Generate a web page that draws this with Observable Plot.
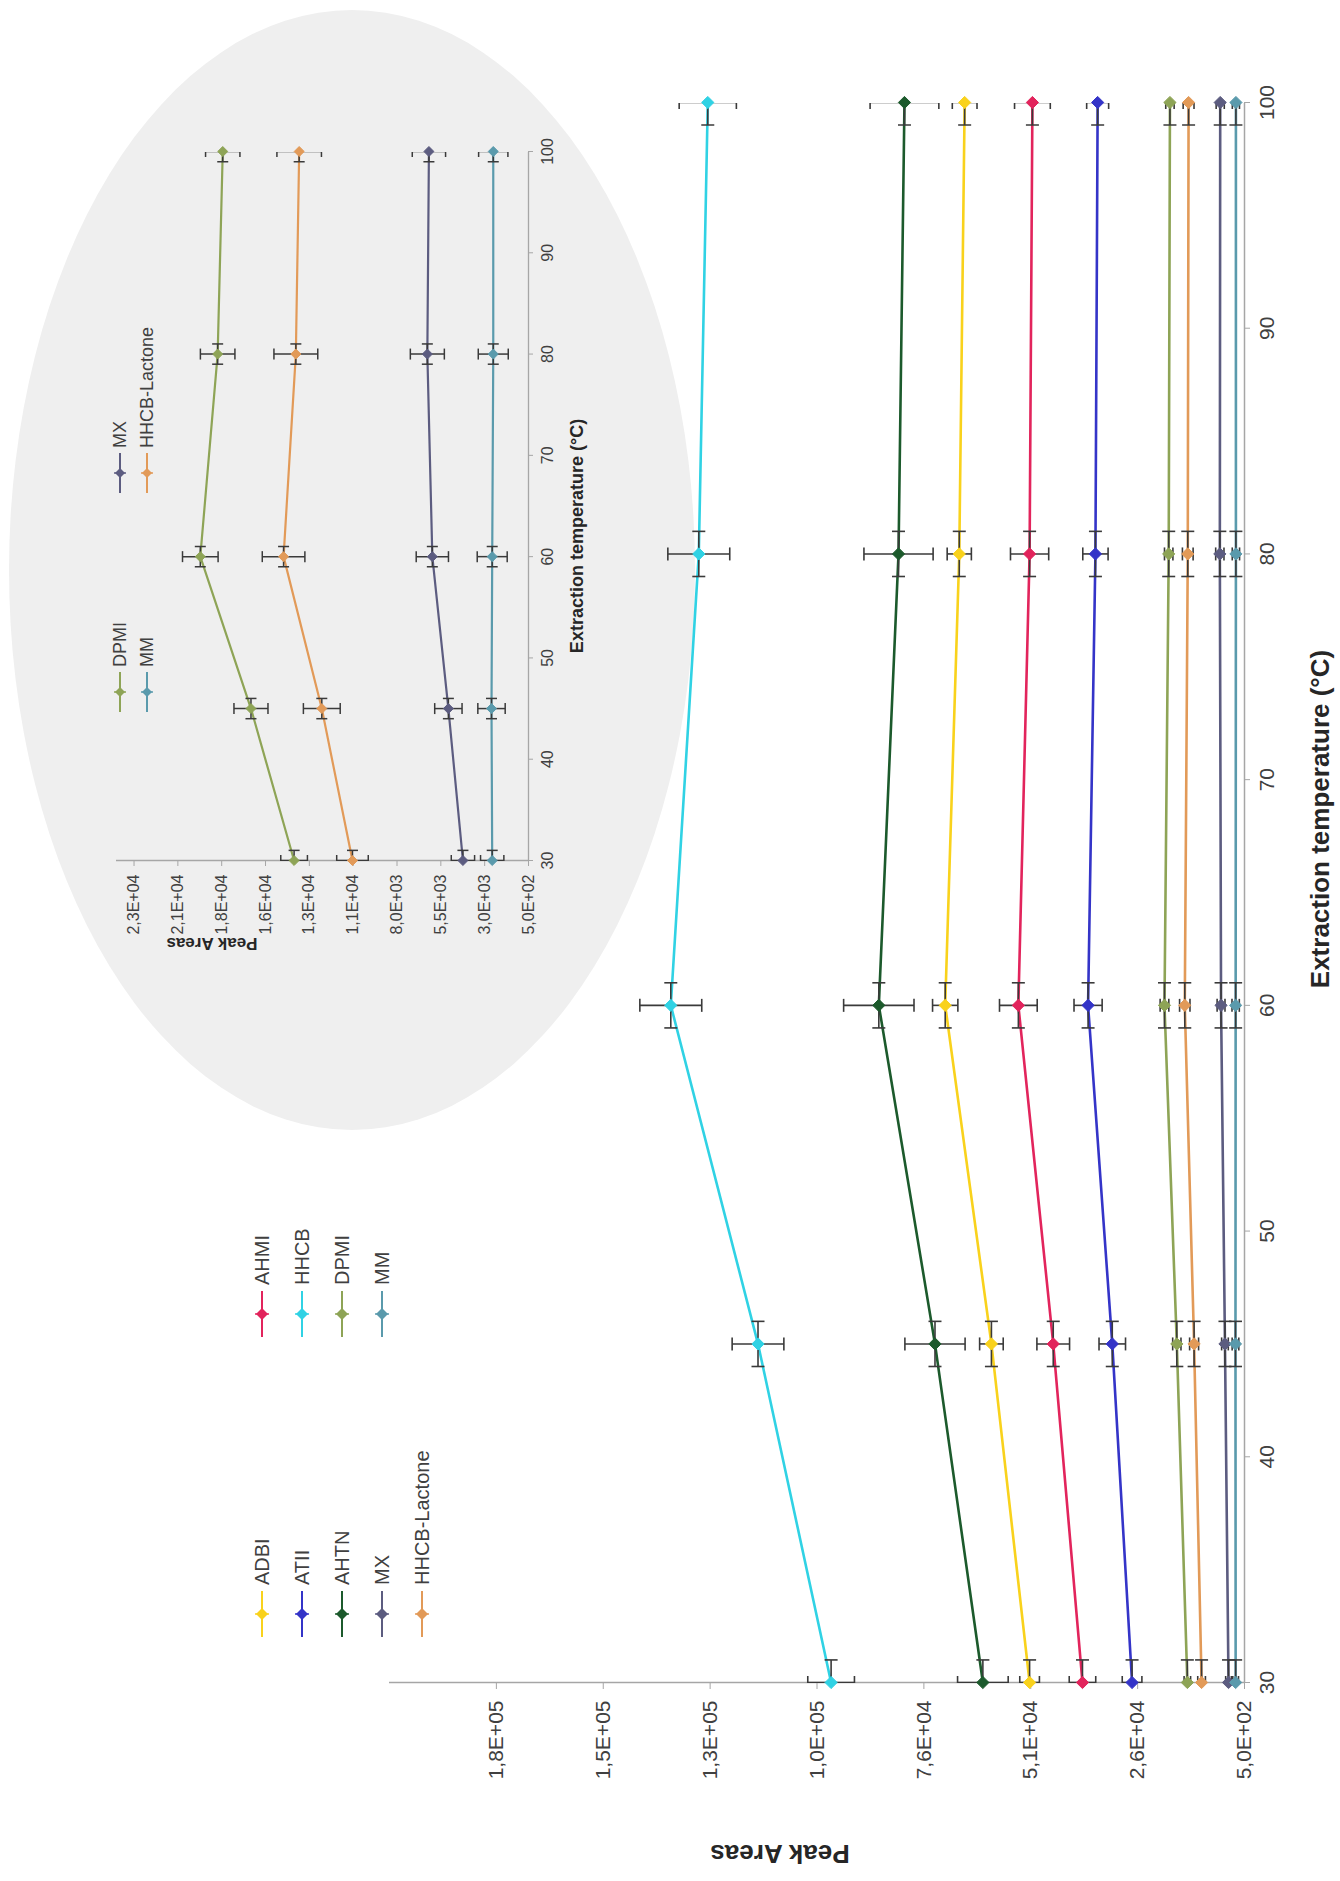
<!DOCTYPE html>
<html>
<head>
<meta charset="utf-8">
<script src="https://cdn.jsdelivr.net/npm/d3@7"></script>
<script src="https://cdn.jsdelivr.net/npm/@observablehq/plot@0.6"></script>
<style>
html, body { margin:0; padding:0; background:#fff; }
body { width:1340px; height:1881px; overflow:hidden; position:relative; font-family:"Liberation Sans", Arial, sans-serif; }
#rot { position:absolute; left:0; top:0; width:1881px; height:1340px; transform-origin:0 0; transform: translate(0px, 1881px) rotate(-90deg); }
#ellipse { position:absolute; background:#efefef; border-radius:50%; }
.abs { position:absolute; }
.lbl { position:absolute; white-space:nowrap; color:#404040; line-height:1; }
.leg { position:absolute; display:flex; align-items:center; white-space:nowrap; color:#404040; line-height:1; }
</style>
</head>
<body>
<div id="rot">
  <div id="ellipse"></div>
  <div id="main" class="abs"></div>
  <div id="inset" class="abs"></div>
</div>
<script>
// ---------------- DATA ----------------
const temperatures = [30, 45, 60, 80, 100];
const temperatureErrors = [1, 1, 1, 1, 1];

const seriesNames  = ["ADBI", "ATII", "AHTN", "MX", "HHCB-Lactone", "AHMI", "HHCB", "DPMI", "MM"];
const seriesColors = ["#f9d21c", "#3434c8", "#1c5a2c", "#5c5c80", "#e29a58", "#e2245c", "#30d2e4", "#8ea456", "#5a9aac"];

const ADBI = [50770, 59700, 70510, 67220, 65960];
const ADBI_err = [2300, 2760, 2960, 2830, 2890];
const ATII = [26800, 31430, 37090, 35370, 34850];
const ATII_err = [2300, 3100, 3290, 2960, 2570];
const AHTN = [61700, 72900, 86040, 81430, 80040];
const AHTN_err = [5920, 7040, 8230, 8090, 8040];
const MX = [4240, 5070, 5985, 6270, 6180];
const MX_err = [665, 780, 920, 970, 950];
const HHCB_Lactone = [10540, 12290, 14470, 13770, 13580];
const HHCB_Lactone_err = [900, 1050, 1215, 1250, 1270];
const AHMI = [38400, 45240, 53400, 50770, 50110];
const AHMI_err = [3100, 3820, 4410, 4470, 4180];
const HHCB = [97200, 114300, 134700, 128150, 126050];
const HHCB_err = [5460, 6050, 7240, 7240, 6690];
const DPMI = [13870, 16330, 19220, 18230, 17940];
const DPMI_err = [760, 970, 1015, 985, 980];
const MM = [2570, 2610, 2570, 2510, 2510];
const MM_err = [665, 780, 855, 855, 835];

const temperatureTicks = [30, 40, 50, 60, 70, 80, 90, 100];
const peakTicks = [500, 25500, 50500, 75500, 100500, 125500, 150500, 175500];
const peakTickLabels = ["5,0E+02", "2,6E+04", "5,1E+04", "7,6E+04", "1,0E+05", "1,3E+05", "1,5E+05", "1,8E+05"];
const insetPeakTicks = [500, 3000, 5500, 8000, 10500, 13000, 15500, 18000, 20500, 23000];
const insetPeakTickLabels = ["5,0E+02", "3,0E+03", "5,5E+03", "8,0E+03", "1,1E+04", "1,3E+04", "1,6E+04", "1,8E+04", "2,1E+04", "2,3E+04"];

const mainLegendCol1 = ["ADBI", "ATII", "AHTN", "MX", "HHCB-Lactone"];
const mainLegendCol2 = ["AHMI", "HHCB", "DPMI", "MM"];
const insetSeries = ["DPMI", "MM", "MX", "HHCB-Lactone"];
const insetLegendCol1 = ["DPMI", "MM"];
const insetLegendCol2 = ["MX", "HHCB-Lactone"];

const xTitle = "Extraction temperature (°C)";
const yTitle = "Peak Areas";

// ---------------- BUILD TABLE ----------------
const seriesValues = {ADBI, ATII, AHTN, MX, "HHCB-Lactone": HHCB_Lactone, AHMI, HHCB, DPMI, MM};
const seriesErrors = {ADBI: ADBI_err, ATII: ATII_err, AHTN: AHTN_err, MX: MX_err, "HHCB-Lactone": HHCB_Lactone_err, AHMI: AHMI_err, HHCB: HHCB_err, DPMI: DPMI_err, MM: MM_err};
const rows = seriesNames.flatMap(name => temperatures.map((t, i) => ({
  name, t, v: seriesValues[name][i], e: seriesErrors[name][i], te: temperatureErrors[i]
})));
const colorOf = Object.fromEntries(seriesNames.map((n, i) => [n, seriesColors[i]]));

// ---------------- STYLE ----------------
const FONT = '"Liberation Sans", Arial, sans-serif';
const axisColor = "#a6a6a6";
const textColor = "#404040";
const errColor = "#3a3a3a";

const capH = {draw(ctx, size) { const r = Math.sqrt(size / Math.PI); ctx.moveTo(-r, 0); ctx.lineTo(r, 0); }};
const capV = {draw(ctx, size) { const r = Math.sqrt(size / Math.PI); ctx.moveTo(0, -r); ctx.lineTo(0, r); }};

function seriesMarks(data, lw, mr, cr, ew) {
  const errStyle = {stroke: errColor, strokeWidth: ew, clip: true};
  return [
    Plot.line(data, {x: "t", y: "v", z: "name", stroke: "name", strokeWidth: lw}),
    Plot.link(data, {x1: "t", x2: "t", y1: d => d.v - d.e, y2: d => d.v + d.e, ...errStyle}),
    Plot.dot(data, {x: "t", y: d => d.v - d.e, symbol: capH, r: cr, fill: "none", ...errStyle}),
    Plot.dot(data, {x: "t", y: d => d.v + d.e, symbol: capH, r: cr, fill: "none", ...errStyle}),
    Plot.link(data, {x1: d => d.t - d.te, x2: d => d.t + d.te, y1: "v", y2: "v", ...errStyle}),
    Plot.dot(data, {x: d => d.t - d.te, y: "v", symbol: capV, r: cr, fill: "none", ...errStyle}),
    Plot.dot(data, {x: d => d.t + d.te, y: "v", symbol: capV, r: cr, fill: "none", ...errStyle}),
    Plot.dot(data, {x: "t", y: "v", symbol: "diamond2", r: mr, fill: "name", stroke: "name", strokeWidth: 1})
  ];
}

// ---------------- MAIN PLOT ----------------
const peakLabel = new Map(peakTicks.map((d, i) => [d, peakTickLabels[i]]));
const mainPlot = Plot.plot({
  width: 1881, height: 1340,
  marginLeft: 198, marginRight: 103, marginTop: 389, marginBottom: 96,
  style: {background: "transparent", fontFamily: FONT, fontSize: "21px", color: textColor, maxWidth: "none", overflow: "visible"},
  x: {domain: [30, 100], label: null},
  y: {domain: [500, 200500], label: null},
  color: {domain: seriesNames, range: seriesColors},
  marks: [
    Plot.ruleX([30], {stroke: axisColor, strokeWidth: 1.5}),
    Plot.ruleY([500], {stroke: axisColor, strokeWidth: 1.5}),
    Plot.axisX(temperatureTicks, {tickSize: 6, tickPadding: 9, stroke: axisColor, fill: textColor, fontSize: 21, label: null}),
    Plot.axisY(peakTicks, {tickSize: 6, tickPadding: 12, tickFormat: d => peakLabel.get(d), stroke: axisColor, fill: textColor, fontSize: 21, label: null}),
    ...seriesMarks(rows, 2.6, 5.5, 6.5, 1.6)
  ]
});
const mainDiv = document.getElementById("main");
Object.assign(mainDiv.style, {left: "0px", top: "0px", width: "1881px", height: "1340px"});
mainDiv.appendChild(mainPlot);

// ---------------- INSET ----------------
const ell = document.getElementById("ellipse");
Object.assign(ell.style, {left: "751px", top: "9px", width: "1120px", height: "686px"});

const insetRows = rows.filter(d => insetSeries.includes(d.name));
const insetLabel = new Map(insetPeakTicks.map((d, i) => [d, insetPeakTickLabels[i]]));
const insetPlot = Plot.plot({
  width: 900, height: 560,
  marginLeft: 140, marginRight: 51, marginTop: 96, marginBottom: 52,
  style: {background: "transparent", fontFamily: FONT, fontSize: "16px", color: textColor, maxWidth: "none", overflow: "visible"},
  x: {domain: [30, 100], label: null},
  y: {domain: [500, 24000], label: null},
  color: {domain: seriesNames, range: seriesColors},
  marks: [
    Plot.ruleX([30], {stroke: axisColor, strokeWidth: 1.3}),
    Plot.ruleY([500], {stroke: axisColor, strokeWidth: 1.3}),
    Plot.axisX(temperatureTicks, {tickSize: 5, tickPadding: 8, stroke: axisColor, fill: textColor, fontSize: 16, label: null}),
    Plot.axisY(insetPeakTicks, {tickSize: 5, tickPadding: 9, tickFormat: d => insetLabel.get(d), stroke: axisColor, fill: textColor, fontSize: 16, label: null}),
    ...seriesMarks(insetRows, 2.2, 4.5, 5.5, 1.5)
  ]
});
const insetDiv = document.getElementById("inset");
Object.assign(insetDiv.style, {left: "880px", top: "20px", width: "900px", height: "560px"});
insetDiv.appendChild(insetPlot);

// ---------------- TEXT & LEGENDS ----------------
const rot = document.getElementById("rot");
function placeText(text, u, v, {size = 19, weight = "normal", rotate = 0, color = "#262626"} = {}) {
  const d = document.createElement("div");
  d.className = "lbl";
  d.textContent = text;
  Object.assign(d.style, {left: u + "px", top: v + "px", fontSize: size + "px", fontWeight: weight, color,
    transform: `translate(-50%, -50%) rotate(${rotate}deg)`});
  rot.appendChild(d);
}
function swatch(color, half, mk, tick) {
  const w = 2 * half, h = 2 * tick + 2, c = h / 2;
  return `<svg width="${w}" height="${h}" style="display:block;overflow:visible">` +
    `<line x1="0" y1="${c}" x2="${w}" y2="${c}" stroke="${color}" stroke-width="2"/>` +
    `<line x1="${half}" y1="${c - tick}" x2="${half}" y2="${c + tick}" stroke="${color}" stroke-width="1.5"/>` +
    `<path d="M${half},${c - mk}L${half + mk},${c}L${half},${c + mk}L${half - mk},${c}Z" fill="${color}"/></svg>`;
}
function legendColumn(names, uMarker, v0, dv, {half, mk, tick, size, gap}) {
  names.forEach((name, i) => {
    const d = document.createElement("div");
    d.className = "leg";
    Object.assign(d.style, {left: (uMarker - half) + "px", top: (v0 + i * dv) + "px", fontSize: size + "px", transform: "translateY(-50%)"});
    d.innerHTML = swatch(colorOf[name], half, mk, tick) + `<span style="margin-left:${gap}px">${name}</span>`;
    rot.appendChild(d);
  });
}

const mainLegendStyle = {half: 23, mk: 6, tick: 7, size: 20, gap: 6};
legendColumn(mainLegendCol1, 267, 262, 40, mainLegendStyle);
legendColumn(mainLegendCol2, 567, 262, 40, mainLegendStyle);

const insetLegendStyle = {half: 20, mk: 5, tick: 6, size: 18, gap: 5};
legendColumn(insetLegendCol1, 1189, 120, 27, insetLegendStyle);
legendColumn(insetLegendCol2, 1408, 120, 27, insetLegendStyle);

placeText(xTitle, 1062, 1320, {size: 26, weight: "bold"});
placeText(yTitle, 27, 780, {size: 26, weight: "bold", rotate: -90});
placeText(xTitle, 1345, 577, {size: 18, weight: "bold"});
placeText(yTitle, 938, 212, {size: 17, weight: "bold", rotate: -90});
</script>
</body>
</html>
